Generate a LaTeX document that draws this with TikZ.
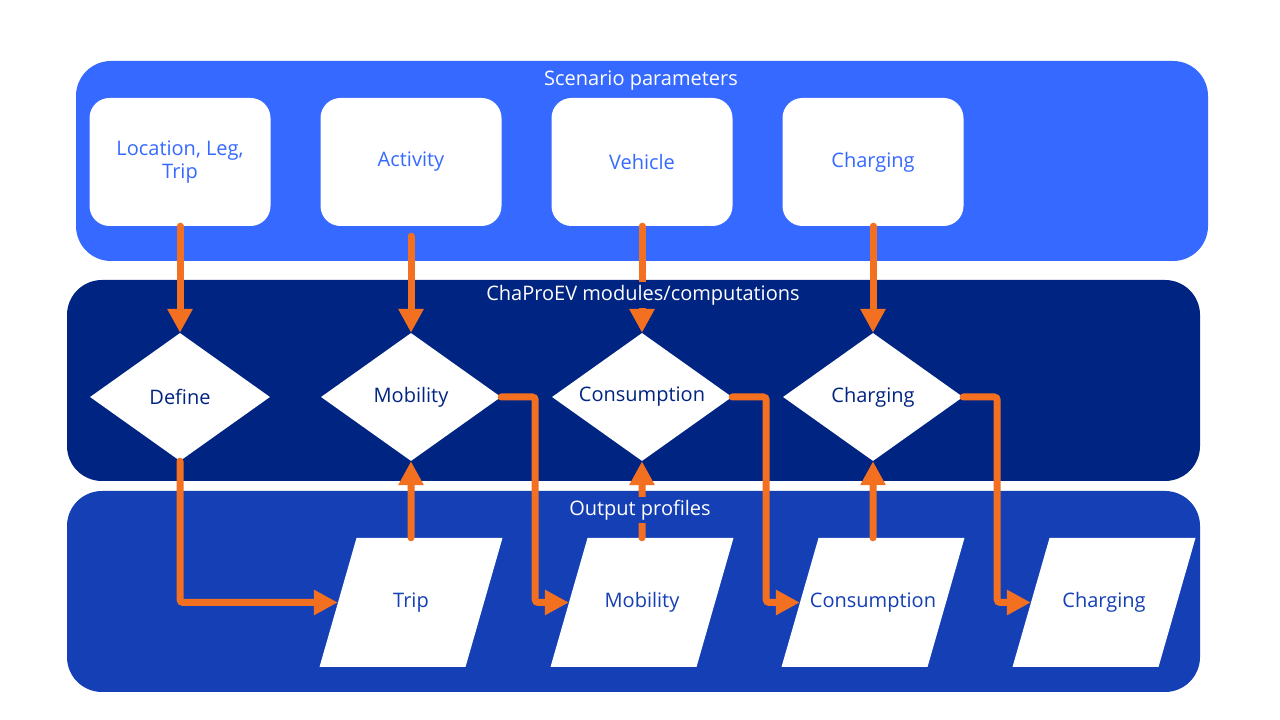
\documentclass[tikz,border=0pt]{standalone}
\usepackage{fontspec}
\setmainfont{Open Sans}
\usepackage{tikz}
\usetikzlibrary{arrows.meta,positioning,shapes.geometric}
\definecolor{scenc}{HTML}{3669FF}
\definecolor{modc}{HTML}{002482}
\definecolor{outc}{HTML}{143FB5}
\definecolor{arc}{HTML}{F37021}
\newcommand{\ptext}[1]{\makebox[109pt]{#1}}
\tikzset{
  ar/.style={-{Triangle[length=24pt,width=24pt]},line width=7pt,arc,line cap=round,rounded corners=3pt},
  panel/.style={rounded corners=35pt},
  parbox/.style={fill=white,rounded corners=20pt,minimum width=181pt,minimum height=128pt,inner sep=0pt,text=scenc,align=center,font=\fontsize{20}{23}\selectfont},
  dia/.style={diamond,aspect=1.4,fill=white,minimum width=180pt,minimum height=128pt,inner sep=0pt,text=modc,font=\fontsize{20}{23}\selectfont},
  para/.style={trapezium,trapezium left angle=74,trapezium right angle=106,fill=white,text height=15pt,text depth=5pt,inner xsep=0pt,inner ysep=54.5pt,text=outc,font=\fontsize{20}{23}\selectfont},
  ttl/.style={text=white,inner xsep=2pt,inner ysep=3pt,font=\fontsize{20}{23}\selectfont}
}
\begin{document}
\begin{tikzpicture}[x=1pt,y=1pt]
\fill[white] (0,0) rectangle (1280,720);
\useasboundingbox (0,0) rectangle (1280,720);
% panels
\fill[panel,scenc] (76,459) rectangle (1208,659);
\fill[panel,modc] (67,239) rectangle (1200,440);
\fill[panel,outc] (67,28) rectangle (1200,229);
% scenario parameters
\node[parbox] (loc) at (180,558) {Location, Leg,\\Trip};
\node[parbox] (act) at (411,558) {Activity};
\node[parbox] (veh) at (642,558) {Vehicle};
\node[parbox] (chg) at (873,558) {Charging};
% modules
\node[dia] (def) at (180,323) {Define};
\node[dia] (mob) at (411,323) {Mobility};
\node[dia] (con) at (642,323) {Consumption};
\node[dia] (chgd) at (873,323) {Charging};
% output profiles
\node[para] (ptrip) at (411,117.5) {\ptext{Trip}};
\node[para] (pmob) at (642,117.5) {\ptext{Mobility}};
\node[para] (pcon) at (873,117.5) {\ptext{Consumption}};
\node[para] (pchg) at (1104,117.5) {\ptext{Charging}};
% connectors
\draw[ar] (loc.south) -- (def.north);
\draw[ar,shorten <=10pt] (act.south) -- (mob.north);
\draw[ar] (veh.south) -- (con.north);
\draw[ar] (chg.south) -- (chgd.north);
\draw[ar] (def.south) |- (ptrip.west);
\draw[ar] (mob.east) -- ++(34,0) |- (pmob.west);
\draw[ar] (con.east) -- ++(34,0) |- (pcon.west);
\draw[ar] (chgd.east) -- ++(34,0) |- (pchg.west);
\draw[ar] (ptrip.north) -- (mob.south);
\draw[ar] (pmob.north) -- (con.south);
\draw[ar] (pcon.north) -- (chgd.south);
% titles
\node[ttl] (tscen) at (641,639) {Scenario parameters};
\node[ttl,fill=modc] (tmod) at (643,425) {ChaProEV modules/computations};
\node[ttl,fill=outc] (tout) at (640,210) {Output profiles};
\end{tikzpicture}
\end{document}
